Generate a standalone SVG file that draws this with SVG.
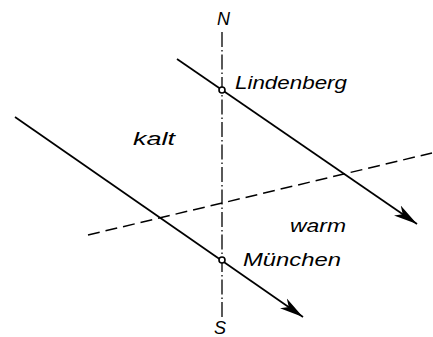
<svg xmlns="http://www.w3.org/2000/svg" width="433" height="337" viewBox="0 0 433 337">
<style>
.ln{stroke:#000;stroke-width:1.7;fill:none}
.dd{stroke:#000;stroke-width:1.3;fill:none;stroke-dasharray:15 3 1.5 3}
.da{stroke:#000;stroke-width:1.5;fill:none;stroke-dasharray:12 6}
.pt{fill:#fff;stroke:#000;stroke-width:1.6}
.lb{font-family:"Liberation Sans",Arial,sans-serif;font-style:italic;font-size:18px;fill:#000}
</style>
<defs>
<marker id="ah" markerUnits="userSpaceOnUse" markerWidth="26" markerHeight="14" refX="22" refY="6" orient="auto" viewBox="0 0 24 12">
<path d="M0,0.5 L22,6 L0,11.5 L6,6 Z" fill="#000"/>
</marker>
</defs>
<rect width="433" height="337" fill="#fff"/>
<g id="connectors">
<line id="axis" class="dd" x1="222" y1="32" x2="222" y2="318"/>
<line id="front" class="da" x1="88" y1="235" x2="432" y2="153"/>
<line id="path-upper" class="ln" x1="177" y1="59" x2="417" y2="224" marker-end="url(#ah)"/>
<line id="path-lower" class="ln" x1="15" y1="117" x2="303" y2="317" marker-end="url(#ah)"/>
</g>
<g id="lindenberg">
<circle class="pt" cx="222" cy="90" r="3"/>
<text class="lb" x="235" y="89" textLength="112" lengthAdjust="spacingAndGlyphs">Lindenberg</text>
</g>
<g id="muenchen">
<circle class="pt" cx="222" cy="260" r="3"/>
<text class="lb" x="243" y="266" textLength="98" lengthAdjust="spacingAndGlyphs">München</text>
</g>
<g id="kalt"><text class="lb" x="133" y="145" textLength="42" lengthAdjust="spacingAndGlyphs">kalt</text></g>
<g id="warm"><text class="lb" x="290" y="232" textLength="56" lengthAdjust="spacingAndGlyphs">warm</text></g>
<g id="north"><text class="lb" x="217" y="25">N</text></g>
<g id="south"><text class="lb" x="214" y="334">S</text></g>
</svg>
